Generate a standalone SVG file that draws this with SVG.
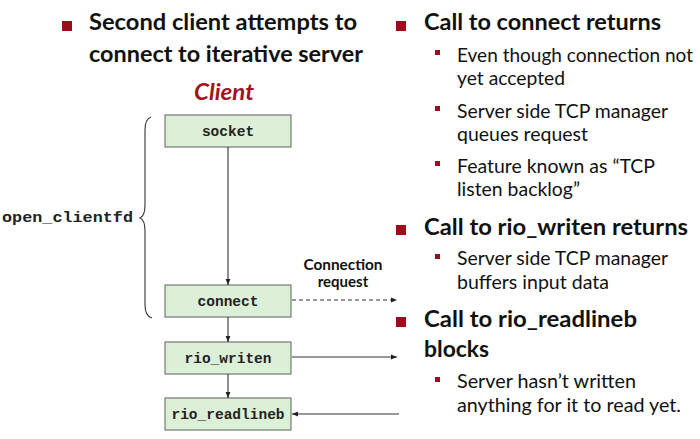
<svg xmlns="http://www.w3.org/2000/svg" width="700" height="439" viewBox="0 0 700 439">
<style>
.h{font-family:Lato,"Open Sans","Liberation Sans",sans-serif;font-weight:bold;font-size:22.5px;fill:#111}
.s{font-family:Lato,"Open Sans","Liberation Sans",sans-serif;font-size:20px;fill:#111}
.m{font-family:"Liberation Mono","DejaVu Sans Mono",monospace;font-weight:bold;font-size:14.5px;fill:#222;text-anchor:middle}
.box{fill:#dcefd7;stroke:#808080;stroke-width:1.3}
.bl{fill:#9b0e19}
.ln{stroke:#333;stroke-width:1.1;fill:none}
</style>
<defs>
<marker id="ah" viewBox="0 0 10 10" refX="10" refY="5" markerWidth="6" markerHeight="6" orient="auto" markerUnits="userSpaceOnUse">
<path d="M0,1 L10,5 L0,9 z" fill="#222"/>
</marker>
</defs>
<rect width="700" height="439" fill="#fff"/>
<g id="title">
<rect class="bl" x="62" y="21" width="10" height="10"/>
<text class="h" x="89" y="30" textLength="268" lengthAdjust="spacingAndGlyphs">Second client attempts to</text>
<text class="h" x="89" y="62" textLength="274" lengthAdjust="spacingAndGlyphs">connect to iterative server</text>
</g>
<text x="224" y="100" text-anchor="middle" font-family="Lato,'Open Sans','Liberation Sans',sans-serif" font-weight="bold" font-style="italic" font-size="23" fill="#a4121b" textLength="60" lengthAdjust="spacingAndGlyphs">Client</text>
<g id="brace">
<path class="ln" d="M151,117 Q145,119 145,130 L145,205 Q145,216 140,218 Q145,220 145,231 L145,305 Q145,316 152,318" stroke="#444"/>
<text x="2" y="222" font-family="'Liberation Mono','DejaVu Sans Mono',monospace" font-weight="bold" font-size="15.5" fill="#222" textLength="131" lengthAdjust="spacingAndGlyphs">open_clientfd</text>
</g>
<g id="socket"><rect class="box" x="165" y="115" width="126" height="32"/><text class="m" x="228" y="136">socket</text></g>
<g id="connect"><rect class="box" x="165" y="285" width="126" height="32"/><text class="m" x="228" y="306">connect</text></g>
<g id="rio_writen"><rect class="box" x="165" y="342" width="126" height="32"/><text class="m" x="228" y="363">rio_writen</text></g>
<g id="rio_readlineb"><rect class="box" x="165" y="398" width="126" height="32"/><text class="m" x="228" y="419">rio_readlineb</text></g>
<g id="connectors">
<line class="ln" x1="228" y1="147" x2="228" y2="285" marker-end="url(#ah)"/>
<line class="ln" x1="228" y1="317" x2="228" y2="342" marker-end="url(#ah)"/>
<line class="ln" x1="228" y1="374" x2="228" y2="398" marker-end="url(#ah)"/>
<line class="ln" x1="292" y1="300" x2="397" y2="300" stroke-dasharray="4,3" marker-end="url(#ah)"/>
<line class="ln" x1="292" y1="357" x2="397" y2="357" marker-end="url(#ah)"/>
<line class="ln" x1="399" y1="414" x2="292" y2="414" marker-end="url(#ah)"/>
<text x="343" y="270" text-anchor="middle" font-family="Lato,'Open Sans','Liberation Sans',sans-serif" font-weight="bold" font-size="15" fill="#111" textLength="79" lengthAdjust="spacingAndGlyphs">Connection</text>
<text x="343" y="287" text-anchor="middle" font-family="Lato,'Open Sans','Liberation Sans',sans-serif" font-weight="bold" font-size="15" fill="#111">request</text>
</g>
<g id="notes">
<rect class="bl" x="396" y="21" width="10" height="10"/>
<text class="h" x="424" y="30" textLength="237" lengthAdjust="spacingAndGlyphs">Call to connect returns</text>
<rect class="bl" x="435" y="50" width="5" height="5"/>
<text class="s" x="457" y="62" style="font-size:18.5px" textLength="236" lengthAdjust="spacingAndGlyphs">Even though connection not</text>
<text class="s" x="457" y="85" textLength="108" lengthAdjust="spacingAndGlyphs">yet accepted</text>
<rect class="bl" x="435" y="106" width="5" height="5"/>
<text class="s" x="457" y="118" textLength="211" lengthAdjust="spacingAndGlyphs">Server side TCP manager</text>
<text class="s" x="457" y="141" textLength="131" lengthAdjust="spacingAndGlyphs">queues request</text>
<rect class="bl" x="435" y="161" width="5" height="5"/>
<text class="s" x="457" y="173" textLength="198" lengthAdjust="spacingAndGlyphs">Feature known as “TCP</text>
<text class="s" x="457" y="196" textLength="123" lengthAdjust="spacingAndGlyphs">listen backlog”</text>
<rect class="bl" x="396" y="225" width="10" height="10"/>
<text class="h" x="424" y="235" textLength="264" lengthAdjust="spacingAndGlyphs">Call to rio_writen returns</text>
<rect class="bl" x="435" y="254" width="5" height="5"/>
<text class="s" x="457" y="265" textLength="211" lengthAdjust="spacingAndGlyphs">Server side TCP manager</text>
<text class="s" x="457" y="289" textLength="152" lengthAdjust="spacingAndGlyphs">buffers input data</text>
<rect class="bl" x="396" y="317" width="10" height="10"/>
<text class="h" x="424" y="327" textLength="213" lengthAdjust="spacingAndGlyphs">Call to rio_readlineb</text>
<text class="h" x="424" y="357" textLength="65" lengthAdjust="spacingAndGlyphs">blocks</text>
<rect class="bl" x="435" y="377" width="5" height="5"/>
<text class="s" x="457" y="388" textLength="179" lengthAdjust="spacingAndGlyphs">Server hasn’t written</text>
<text class="s" x="457" y="412" textLength="224" lengthAdjust="spacingAndGlyphs">anything for it to read yet.</text>
</g>
</svg>
